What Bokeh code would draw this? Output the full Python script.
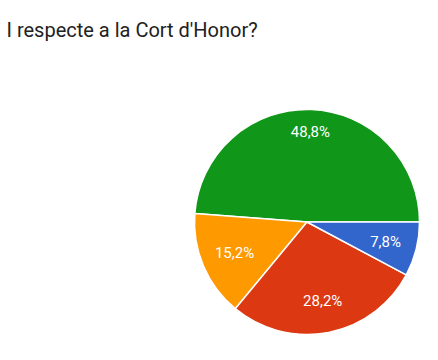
import numpy as np
from bokeh.plotting import figure
from bokeh.models import Range1d, ColumnDataSource
from bokeh.core.properties import value
from bokeh.embed import file_html
from bokeh.resources import INLINE

title_text = "I respecte a la Cort d'Honor?"
categories = ["A", "B", "C", "D"]
shares = [48.8, 15.2, 28.2, 7.8]
labels = ["48,8%", "15,2%", "28,2%", "7,8%"]
colors = ["#109618", "#ff9900", "#dc3912", "#3366cc"]

W, H = 438, 360
p = figure(width=W, height=H, output_backend="svg", toolbar_location=None,
           x_range=Range1d(0, W), y_range=Range1d(0, H), min_border=0)
p.axis.visible = False
p.grid.visible = False
p.outline_line_color = None
p.background_fill_color = "white"
p.border_fill_color = "white"

cx, cy, R = 306.5, H - 221.5, 112.5
frac = np.array(shares) / np.sum(shares)
ends = np.cumsum(frac) * 2 * np.pi
starts = ends - frac * 2 * np.pi
mids = (starts + ends) / 2
lab_r = np.array([0.80, 0.70, 0.72, 0.72]) * R

src = ColumnDataSource(dict(start=starts, end=ends, color=colors, label=labels,
                            lx=cx + lab_r * np.cos(mids), ly=cy + lab_r * np.sin(mids)))
p.wedge(x=cx, y=cy, radius=R, start_angle="start", end_angle="end",
        fill_color="color", line_color="white", line_width=1.5, source=src)
p.text(x="lx", y="ly", text="label", source=src, text_color="white",
       text_font=value("Roboto"), text_font_size="15px",
       text_align="center", text_baseline="middle")

p.text(x=[6], y=[H - 29], text=[title_text], text_font=value("Roboto"),
       text_font_size="20px", text_color="#212121", text_align="left",
       text_baseline="alphabetic")

open("out.html", "w").write(file_html(p, INLINE))
